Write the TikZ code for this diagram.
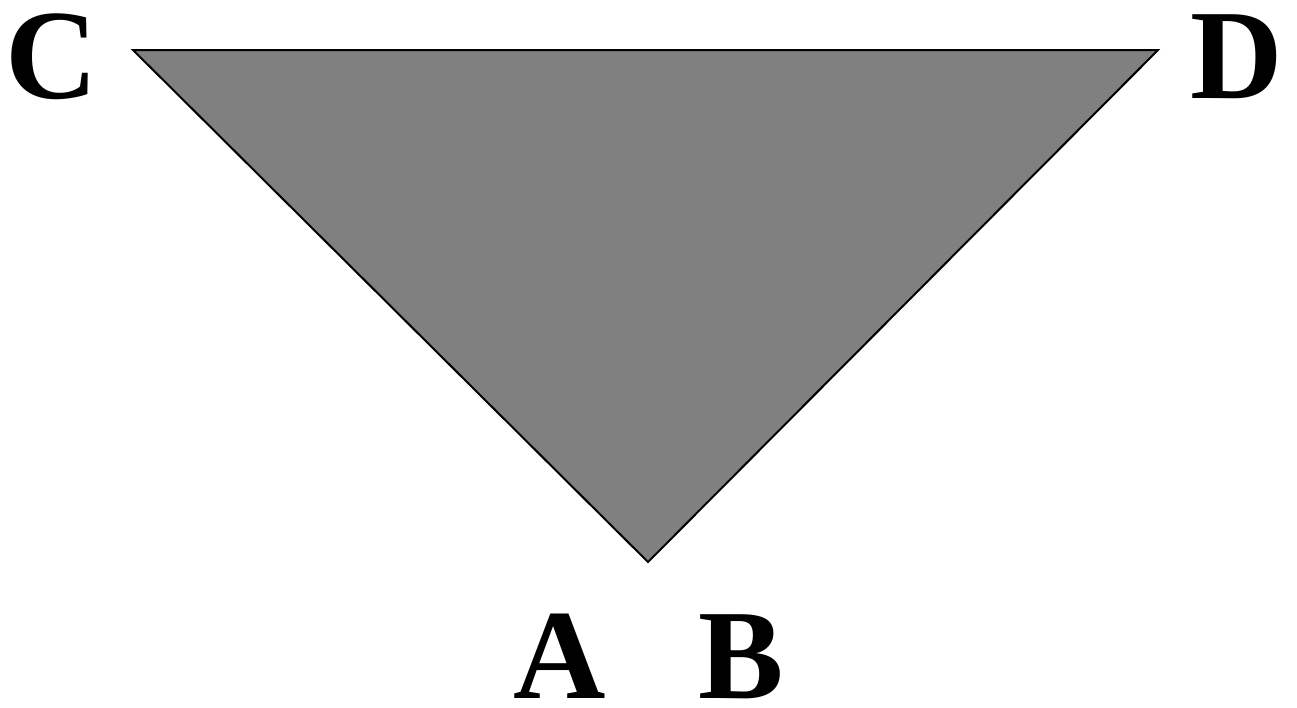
\documentclass[tikz,border=0pt]{standalone}
\usepackage{fontspec}
\setmainfont{Liberation Serif}
\begin{document}
\begin{tikzpicture}[x=1pt,y=-1pt,
  lbl/.style={inner sep=0pt,anchor=base,text depth=0pt,font=\fontsize{128}{134}\selectfont\bfseries},
  tri/.style={fill=black!50,draw=black,line width=2pt,line join=miter}]
\useasboundingbox (0,0) rectangle (1297,707);
\coordinate (c) at (133,50);
\coordinate (d) at (1158,50);
\coordinate (ab) at (648,562);
\draw[tri] (c) -- (d) -- (ab) -- cycle;
\node[lbl] (C) at (51.5,98) {C};
\node[lbl] (D) at (1237,98) {D};
\node[lbl] (A) at (560,698) {A};
\node[lbl] (B) at (741,698) {B};
\end{tikzpicture}
\end{document}
